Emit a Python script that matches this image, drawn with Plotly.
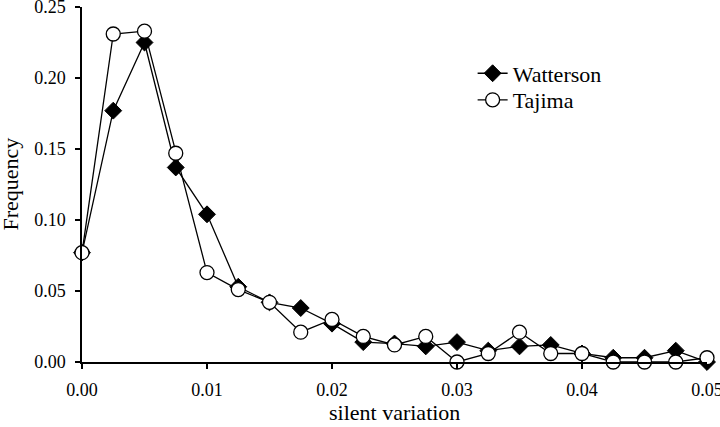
import plotly.graph_objects as go

silent_variation = [0.0, 0.0025, 0.005, 0.0075, 0.01, 0.0125, 0.015, 0.0175, 0.02, 0.0225,
                    0.025, 0.0275, 0.03, 0.0325, 0.035, 0.0375, 0.04, 0.0425, 0.045, 0.0475, 0.05]
watterson = [0.077, 0.177, 0.225, 0.137, 0.104, 0.053, 0.042, 0.038, 0.027, 0.014,
             0.013, 0.011, 0.014, 0.008, 0.011, 0.012, 0.006, 0.003, 0.003, 0.008, 0.0]
tajima = [0.077, 0.231, 0.233, 0.147, 0.063, 0.051, 0.042, 0.021, 0.030, 0.018,
          0.012, 0.018, 0.0, 0.006, 0.021, 0.006, 0.006, 0.0, 0.0, 0.0, 0.003]

x_ticks = [0.0, 0.01, 0.02, 0.03, 0.04, 0.05]
x_ticklabels = ["0.00", "0.01", "0.02", "0.03", "0.04", "0.05"]
y_ticks = [0.0, 0.05, 0.10, 0.15, 0.20, 0.25]
y_ticklabels = ["0.00", "0.05", "0.10", "0.15", "0.20", "0.25"]

x_title = "silent variation"
y_title = "Frequency"

FONT = "Liberation Serif, Times New Roman, serif"

fig = go.Figure()
fig.add_trace(go.Scatter(
    x=silent_variation, y=watterson, name="Watterson", mode="lines+markers",
    line=dict(color="black", width=1.3),
    marker=dict(symbol="diamond", size=13, color="black", line=dict(color="black", width=1)),
    cliponaxis=False, legend="legend",
))
fig.add_trace(go.Scatter(
    x=silent_variation, y=tajima, name="Tajima", mode="lines+markers",
    line=dict(color="black", width=1.3),
    marker=dict(symbol="circle", size=14, color="white", line=dict(color="black", width=1.3)),
    cliponaxis=False, legend="legend2",
))

legend_common = dict(xanchor="left", yanchor="top",
                     font=dict(family=FONT, size=22, color="black"),
                     bgcolor="rgba(0,0,0,0)", itemwidth=30)

fig.update_layout(
    width=720, height=427,
    margin=dict(l=82, r=13, t=7, b=65),
    paper_bgcolor="white", plot_bgcolor="white",
    font=dict(family=FONT, color="black", size=18),
    showlegend=True,
    legend=dict(x=0.625, y=0.872, **legend_common),
    legend2=dict(x=0.625, y=0.797, **legend_common),
    xaxis=dict(
        range=[0, 0.05], tickvals=x_ticks, ticktext=x_ticklabels,
        showgrid=False, zeroline=False, showline=True, linecolor="black", linewidth=1.5,
        ticks="outside", ticklen=5, tickwidth=1.5, tickcolor="black",
        tickfont=dict(family=FONT, size=18, color="black"), ticklabelstandoff=6,
        ticklabeloverflow="allow", automargin=False,
    ),
    yaxis=dict(
        range=[0, 0.25], tickvals=y_ticks, ticktext=y_ticklabels,
        showgrid=False, zeroline=False, showline=True, linecolor="black", linewidth=1.5,
        ticks="outside", ticklen=5, tickwidth=1.5, tickcolor="black",
        tickfont=dict(family=FONT, size=18, color="black"), ticklabelstandoff=6,
        ticklabeloverflow="allow", automargin=False,
    ),
    annotations=[
        dict(text=x_title, xref="paper", yref="paper", x=0.5, y=-0.143,
             xanchor="center", yanchor="middle", showarrow=False,
             font=dict(family=FONT, size=22, color="black")),
        dict(text=y_title, xref="paper", yref="paper", x=-0.1152, y=0.5,
             xanchor="center", yanchor="middle", textangle=-90, showarrow=False,
             font=dict(family=FONT, size=22, color="black")),
    ],
)

fig.write_html(
    "out.html",
    config={"displayModeBar": False},
    post_script="document.body.style.margin='0';document.body.style.overflow='hidden';",
)
